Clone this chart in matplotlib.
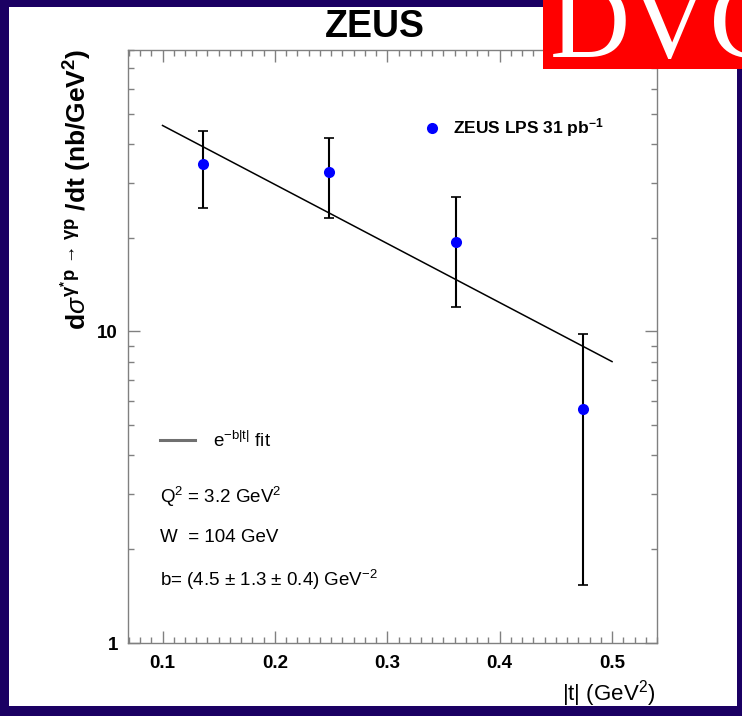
import matplotlib
matplotlib.use("Agg")
import matplotlib.pyplot as plt
from matplotlib.patches import Rectangle
from matplotlib.ticker import MultipleLocator, LogLocator, NullFormatter, FixedLocator, FixedFormatter

plt.rcParams['font.family'] = ['Liberation Sans', 'DejaVu Sans']
plt.rcParams['mathtext.fontset'] = 'custom'
plt.rcParams['mathtext.rm'] = 'Liberation Sans'
plt.rcParams['mathtext.it'] = 'Liberation Sans:italic'
plt.rcParams['mathtext.bf'] = 'Liberation Sans:bold'

# ---- data ----
t_vals = [0.136, 0.248, 0.361, 0.474]
dsig = [34.5, 32.4, 19.4, 5.65]
err_hi = [44.1, 41.9, 26.9, 9.8]
err_lo = [24.8, 23.1, 12.0, 1.54]
fit_t = [0.1, 0.5]
fit_y = [45.8, 8.0]
x_ticks = [0.1, 0.2, 0.3, 0.4, 0.5]
x_ticklabels = ['0.1', '0.2', '0.3', '0.4', '0.5']
y_ticks = [1, 10]
y_ticklabels = ['1', '10']

W, H = 742, 716
fig = plt.figure(figsize=(W / 100, H / 100), dpi=100)
fig.patch.set_facecolor('#1b0063')

# white panel
fig.patches.append(Rectangle((9 / W, 1 - 706 / H), (737 - 9) / W, (706 - 7) / H,
                             transform=fig.transFigure, facecolor='white',
                             edgecolor='none', zorder=-2))
# red box
fig.patches.append(Rectangle((543 / W, 1 - 69 / H), 1.0, 0.2,
                             transform=fig.transFigure, facecolor='#ff0000',
                             edgecolor='none', zorder=5))
fig.text(550 / W, 1 - 57 / H, 'DVC', family='Liberation Serif', fontsize=80,
         color='white', ha='left', va='baseline', zorder=6)

fig.text(375 / W, 1 - 27 / H, 'ZEUS', fontsize=27, fontweight='bold',
         ha='center', va='center')

ax = fig.add_axes([127.7 / W, 1 - 643 / H, (657 - 127.7) / W, (643 - 50) / H], zorder=1)
ax.set_facecolor('none')
ax.set_yscale('log')
ax.set_xlim(0.069, 0.540)
ax.set_ylim(1, 80)

ax.plot(fit_t, fit_y, color='black', lw=1.1, zorder=2)
yerr = [[d - l for d, l in zip(dsig, err_lo)], [h - d for d, h in zip(dsig, err_hi)]]
ax.errorbar(t_vals, dsig, yerr=yerr, fmt='none', ecolor='black', elinewidth=1.5,
            capsize=3.5, capthick=1.2, zorder=3)
ax.plot(t_vals, dsig, 'o', color='#0000ff', markersize=8, markeredgewidth=0, zorder=4)

for s in ax.spines.values():
    s.set_color('#808080')
    s.set_linewidth(1.0)

ax.xaxis.set_major_locator(FixedLocator(x_ticks))
ax.xaxis.set_major_formatter(FixedFormatter(x_ticklabels))
ax.xaxis.set_minor_locator(MultipleLocator(0.01))
ax.yaxis.set_major_locator(FixedLocator(y_ticks))
ax.yaxis.set_major_formatter(FixedFormatter(y_ticklabels))
ax.yaxis.set_minor_locator(LogLocator(base=10, subs=range(2, 10)))
ax.yaxis.set_minor_formatter(NullFormatter())
ax.tick_params(which='both', direction='in', top=True, right=True, color='#808080', width=1.0)
ax.tick_params(which='major', length=8.5)
ax.tick_params(which='minor', length=4.1)
ax.tick_params(axis='x', which='major', pad=8.5, labelsize=13.5)
ax.tick_params(axis='y', which='major', pad=7, labelsize=13.5)
for lab in ax.get_xticklabels() + ax.get_yticklabels():
    lab.set_fontweight('bold')

# axis titles
fig.text(655 / W, 1 - 694 / H, r'|t| (GeV$^{2}$)', fontsize=16, ha='right', va='center')
fig.text(76 / W, 1 - 49 / H,
         r'd$\sigma^{\mathregular{\gamma^{*}p\,\rightarrow\,\gamma p}}$ /dt (nb/GeV$^{\mathbf{2}}$)',
         fontsize=19, fontweight='bold', rotation=90, ha='center', va='top')

# legend (data)
def px(x, y):
    return (x / W, 1 - y / H)

fig.lines.append(plt.Line2D([432 / W], [1 - 128 / H], marker='o', color='#0000ff',
                            markersize=8, markeredgewidth=0, transform=fig.transFigure))
fig.text(*px(453, 128), r'ZEUS LPS 31 pb$^{\mathbf{-1}}$', fontsize=12.5,
         fontweight='bold', ha='left', va='center')

# lower legend + text
fig.lines.append(plt.Line2D([160 / W, 195 / W], [1 - 440 / H, 1 - 440 / H],
                            color='#707070', lw=2.2, transform=fig.transFigure))
fig.text(*px(213, 441), r'e$^{\mathregular{-b|t|}}$ fit', fontsize=13.5, ha='left', va='center')
fig.text(*px(160, 497), r'Q$^{2}$ = 3.2 GeV$^{2}$', fontsize=13.5, ha='left', va='center')
fig.text(*px(160, 537), r'W  = 104 GeV', fontsize=13.5, ha='left', va='center')
fig.text(*px(160, 580), r'b= (4.5 $\pm$ 1.3 $\pm$ 0.4) GeV$^{-2}$', fontsize=13.5,
         ha='left', va='center')

fig.savefig('out.png', dpi=100, facecolor=fig.get_facecolor())
